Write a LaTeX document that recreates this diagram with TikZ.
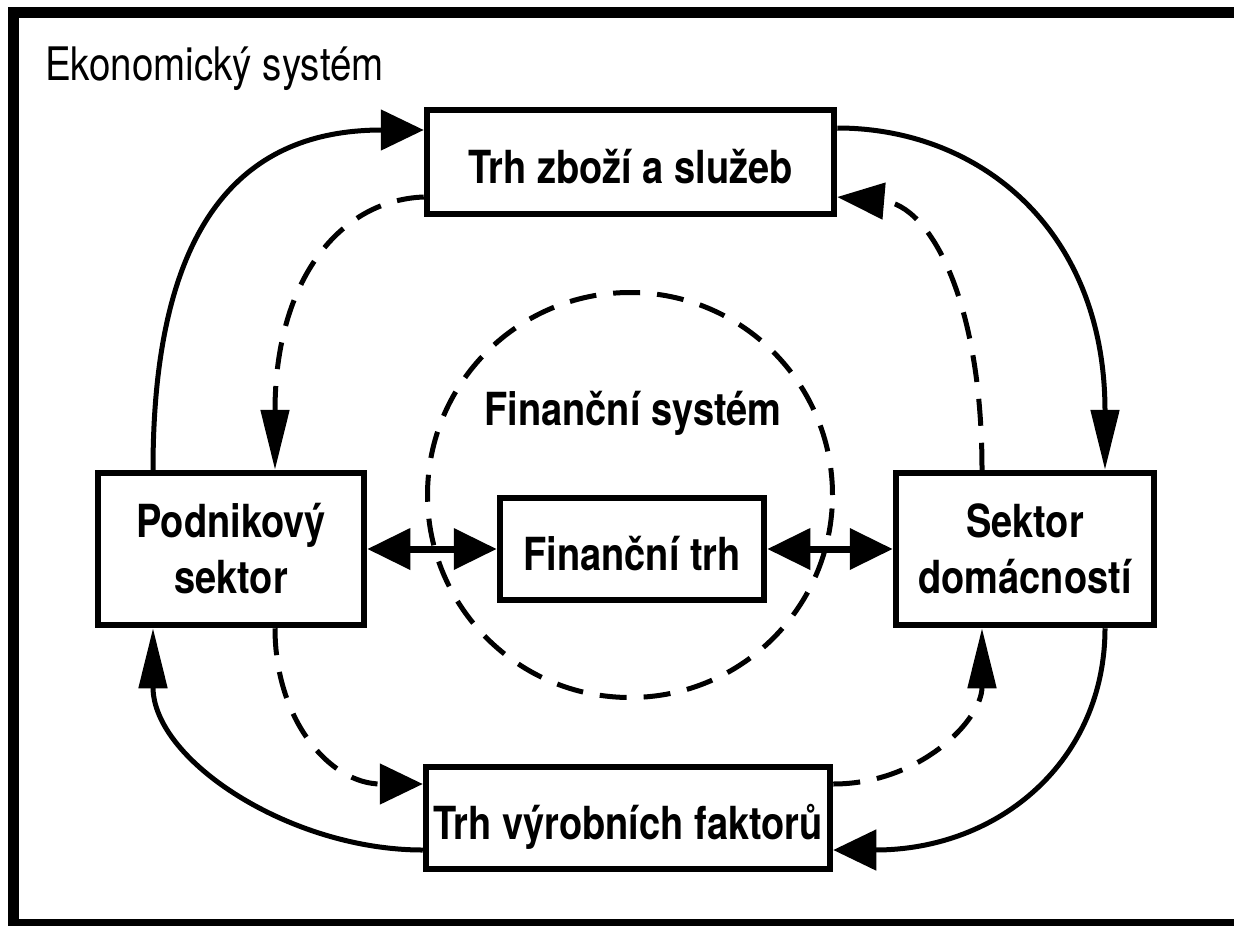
\documentclass[tikz,border=0pt]{standalone}
\usepackage{fontspec}
\usepackage{graphicx}
\setmainfont{TeX Gyre Heros}
\usetikzlibrary{arrows.meta,calc}
\newcommand{\vstr}[1]{\scalebox{1}[1.2]{#1}}
\tikzset{
  box/.style={draw, line width=6.5pt, inner sep=0pt, align=center,
    font=\fontsize{38}{56}\selectfont\bfseries},
  onebox/.style={box, text height=42pt, text depth=0pt},
  conn/.style={line width=5pt},
  dsh/.style={conn, dash pattern=on 27pt off 17pt},
  vtip/.style={-{Triangle[length=60pt,width=28pt]}},
  htip/.style={-{Triangle[length=43pt,width=40pt]}},
  dtip/.style={-{Triangle[length=47pt,width=36pt]}},
  both/.style={line width=7pt, {Triangle[length=43pt,width=40pt]}-{Triangle[length=43pt,width=40pt]}},
}
\begin{document}
\begin{tikzpicture}[x=1pt,y=-1pt]
\useasboundingbox (0,0) rectangle (1234,926);
\draw[line width=11pt] (13,12) rectangle (1250,924);
\node[anchor=base west, inner sep=0pt, font=\fontsize{38.5}{46}\selectfont] (title) at (45,80) {\vstr{Ekonomický systém}};
% financial system circle
\node[circle, draw, dsh, minimum size=405pt, inner sep=0pt] (fs) at (630,495) {};
\node[anchor=base, inner sep=0pt, font=\fontsize{38}{46}\selectfont\bfseries] (fslabel) at (633,425) {\vstr{Finanční systém}};
% boxes
\node[onebox, minimum width=407pt, minimum height=104pt] (top) at (630.5,162) {\vstr{Trh zboží a služeb}};
\node[onebox, minimum width=404pt, minimum height=102pt] (bot) at (628,818) {\vstr{Trh výrobních faktorů}};
\node[onebox, minimum width=264pt, minimum height=102pt] (ft) at (632,549) {\vstr{Finanční trh}};
\node[box, minimum width=266pt, minimum height=152pt] (ps) at (231,549) {\vstr{Podnikový}\\\vstr{sektor}};
\node[box, minimum width=258pt, minimum height=152pt] (sk) at (1025,549) {\vstr{Sektor}\\\vstr{domácností}};
% solid flows
\draw[conn, htip] ([xshift=-78pt]ps.north) .. controls (153,200) and (260,130) .. ([yshift=32pt]top.west);
\draw[conn, vtip] ([yshift=34pt]top.east) .. controls (980,128) and (1105,230) .. ([xshift=80pt]sk.north);
\draw[conn, htip] ([xshift=80pt]sk.south) .. controls (1105,760) and (1000,850) .. ([yshift=-32pt]bot.east);
\draw[conn, vtip] ([yshift=-32pt]bot.west) .. controls (290,850) and (153,760) .. ([xshift=-78pt]ps.south);
% dashed flows
\draw[dsh, vtip] ([yshift=-35pt]top.west) .. controls (340,200) and (275,280) .. ([xshift=44pt]ps.north);
\draw[dsh, dtip] ([xshift=-43pt]sk.north) .. controls (982,300) and (930,205) .. ([yshift=-35pt]top.east);
\draw[dsh, htip] ([xshift=44pt]ps.south) .. controls (275,720) and (330,784) .. ([yshift=34pt]bot.west);
\draw[dsh, vtip] ([yshift=34pt]bot.east) .. controls (920,784) and (982,720) .. ([xshift=-43pt]sk.south);
% financial market links
\draw[both] (ps.east) -- (ft.west);
\draw[both] (ft.east) -- (sk.west);
\end{tikzpicture}
\end{document}
